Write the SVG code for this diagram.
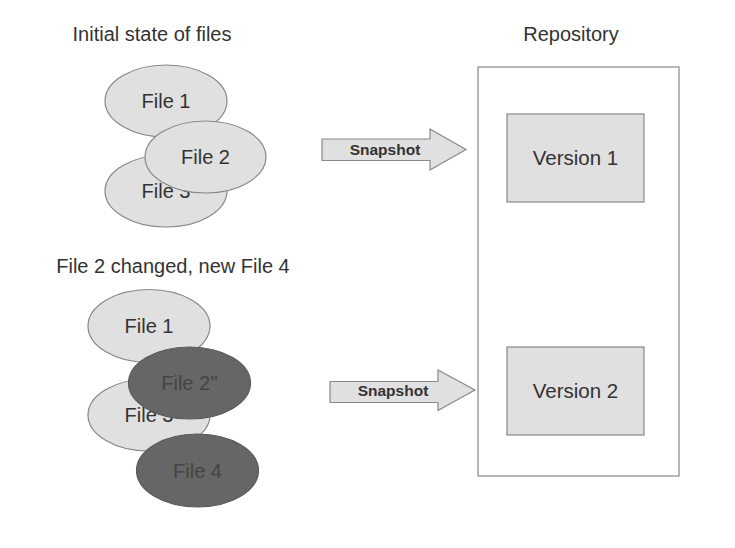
<svg xmlns="http://www.w3.org/2000/svg" width="735" height="548" viewBox="0 0 735 548">
<style>
text{font-family:"Liberation Sans",Arial,sans-serif;fill:#333;text-anchor:middle}
.t{font-size:20px}
.lbl{font-size:20px}
.ver{font-size:20.5px}
.dk{fill:#444}
.e{fill:#e0e0e0;stroke:#888;stroke-width:1.2}
.ed{fill:#666;stroke:#5a5a5a;stroke-width:1.2}
.box{fill:#e0e0e0;stroke:#888;stroke-width:1.2}
.arr{fill:#e0e0e0;stroke:#888;stroke-width:1.2}
.sn{font-size:15.5px;font-weight:bold}
</style>
<rect width="735" height="548" fill="#fff"/>
<text class="t" x="152" y="41">Initial state of files</text>
<text class="t" x="571" y="41">Repository</text>
<text class="t" x="173" y="273">File 2 changed, new File 4</text>
<g id="repository"><rect x="478" y="67" width="201" height="409" fill="#fff" stroke="#888" stroke-width="1.2"/></g>
<g id="version1"><rect class="box" x="507" y="114" width="137" height="88"/><text class="ver" x="575.5" y="164.5">Version 1</text></g>
<g id="version2"><rect class="box" x="507" y="347" width="137" height="88"/><text class="ver" x="575.5" y="397.5">Version 2</text></g>
<g id="s1-file1"><ellipse class="e" cx="166" cy="101" rx="61" ry="36"/><text class="lbl" x="166" y="108">File 1</text></g>
<g id="s1-file3"><ellipse class="e" cx="166" cy="191" rx="61" ry="36"/><text class="lbl" x="166" y="198">File 3</text></g>
<g id="s1-file2"><ellipse class="e" cx="205.5" cy="157" rx="60.5" ry="36"/><text class="lbl" x="205.5" y="164">File 2</text></g>
<g id="s2-file1"><ellipse class="e" cx="149" cy="326" rx="61" ry="36.5"/><text class="lbl" x="149" y="333">File 1</text></g>
<g id="s2-file3"><ellipse class="e" cx="149" cy="415" rx="61" ry="36"/><text class="lbl" x="149" y="422">File 3</text></g>
<g id="s2-file2"><ellipse class="ed" cx="189.5" cy="383" rx="61" ry="36"/><text class="lbl dk" x="189.5" y="390">File 2''</text></g>
<g id="s2-file4"><ellipse class="ed" cx="197.5" cy="470.5" rx="61" ry="36.5"/><text class="lbl dk" x="197.5" y="477.5">File 4</text></g>
<g id="connectors">
<g id="snapshot1"><path class="arr" d="M322,139 H430 V129 L466,149.5 L430,170 V160.5 H322 Z"/><text class="sn" x="385" y="155">Snapshot</text></g>
<g id="snapshot2"><path class="arr" d="M330,381.5 H438 V370 L475,390 L438,410.5 V402.5 H330 Z"/><text class="sn" x="393" y="395.5">Snapshot</text></g>
</g>
</svg>
